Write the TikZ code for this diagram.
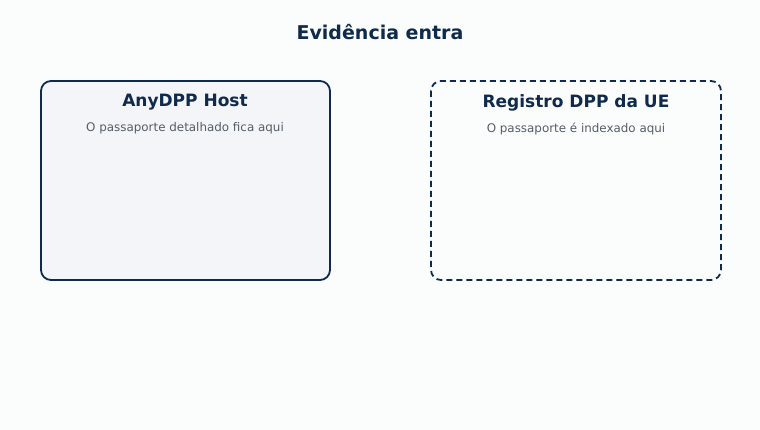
\documentclass[tikz,border=0pt]{standalone}
\usepackage{fontspec}
\setmainfont{DejaVu Sans}
\definecolor{navy}{HTML}{0F2A4A}
\definecolor{subgray}{HTML}{555D68}
\definecolor{bgc}{HTML}{FBFDFD}
\definecolor{boxfill}{HTML}{F4F5F8}
\begin{document}
\begin{tikzpicture}[x=1pt,y=-1pt,
  panel/.style={rounded corners=10pt, line width=1.8pt, draw=navy},
  ttl/.style={font=\bfseries\fontsize{17}{20}\selectfont, text=navy},
  sub/.style={font=\fontsize{11.9}{14}\selectfont, text=subgray}]
\fill[bgc] (0,0) rectangle (760,430);
\useasboundingbox (0,0) rectangle (760,430);
\node[font=\bfseries\fontsize{19}{22}\selectfont, text=navy] (title) at (380,32) {Evidência entra};
\draw[panel, fill=boxfill] (41,81) rectangle (330,280);
\node[ttl] (lt) at (185,102.5) {AnyDPP Host};
\node[sub] (ls) at (185,128.5) {O passaporte detalhado fica aqui};
\draw[panel, dash pattern=on 6pt off 4pt] (431,81) rectangle (721,280);
\node[ttl] (rt) at (576,102.5) {Registro DPP da UE};
\node[sub] (rs) at (576,128.5) {O passaporte é indexado aqui};
\end{tikzpicture}
\end{document}
